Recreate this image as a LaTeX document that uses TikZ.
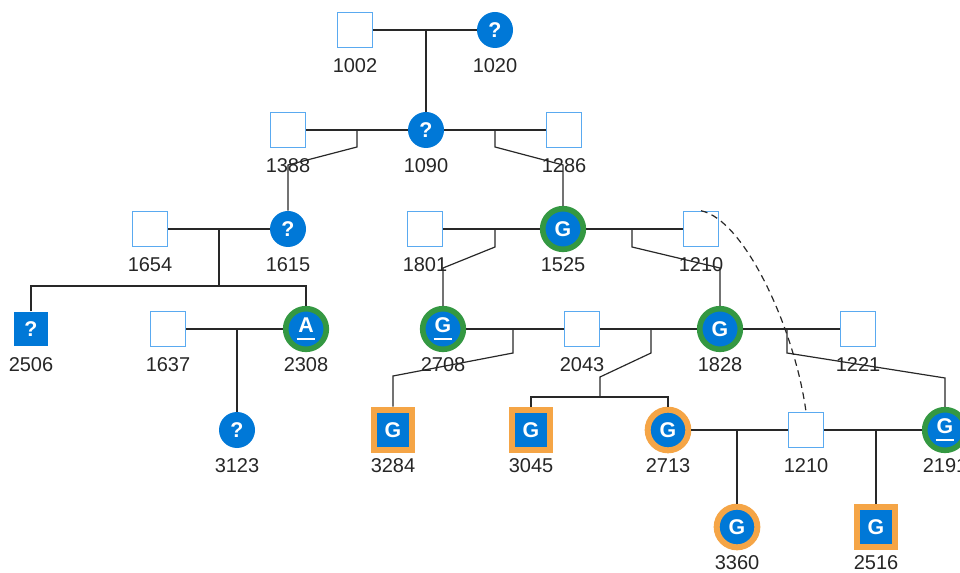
\documentclass[tikz,border=0pt]{standalone}
\usepackage{fontspec}
\setmainfont{Liberation Sans}
\definecolor{pblue}{RGB}{0,120,215}
\definecolor{pline}{RGB}{90,170,240}
\definecolor{pgreen}{RGB}{52,152,66}
\definecolor{porange}{RGB}{245,165,70}
\definecolor{pedge}{RGB}{40,40,40}
\newcommand{\ulsym}[1]{\shortstack{#1\\[0.5pt]\rule{14pt}{1.6pt}}}
\tikzset{
  lbl/.style={font=\fontsize{15}{15}\selectfont, text=black!85, inner sep=0pt, yshift=-27pt},
  sym/.style={text=white, font=\bfseries\fontsize{16}{16}\selectfont, inner sep=0pt},
  sqr/.style={draw=pline, line width=0.9pt, fill=white, minimum size=26.5pt, inner sep=0pt},
  qcirc/.style={sym, circle, fill=pblue, minimum size=27pt},
  qsqr/.style={sym, fill=pblue, minimum size=26pt},
  gring/.style={sym, circle, fill=pblue, draw=pgreen, line width=4.2pt, minimum size=30.5pt},
  oring/.style={sym, circle, fill=pblue, draw=porange, line width=4.5pt, minimum size=30.5pt},
  osqr/.style={sym, fill=pblue, draw=porange, line width=4.5pt, minimum width=28.5pt, minimum height=30.5pt},
  edge/.style={draw=pedge, line width=0.9pt},
  dashed edge/.style={edge, dash pattern=on 5pt off 3.5pt}
}
\begin{document}
\begin{tikzpicture}[x=0.75pt,y=0.75pt,yscale=-1,xscale=1]
\useasboundingbox (0,0) rectangle (960,573);

%Shape: Square 
\node [sqr, label={[lbl]center:1002}] (n1002) at (355,30) {};
%Shape: Circle 
\node [qcirc, label={[lbl]center:1020}] (n1020) at (495,30) {?};

%Shape: Square 
\node [sqr, label={[lbl]center:1388}] (n1388) at (288,130) {};
%Shape: Circle 
\node [qcirc, label={[lbl]center:1090}] (n1090) at (426,130) {?};
%Shape: Square 
\node [sqr, label={[lbl]center:1286}] (n1286) at (564,130) {};

%Shape: Square 
\node [sqr, label={[lbl]center:1654}] (n1654) at (150,229) {};
%Shape: Circle 
\node [qcirc, label={[lbl]center:1615}] (n1615) at (288,229) {?};
%Shape: Square 
\node [sqr, label={[lbl]center:1801}] (n1801) at (425,229) {};
%Shape: Circle 
\node [gring, label={[lbl]center:1525}] (n1525) at (563,229) {G};
%Shape: Square 
\node [sqr, label={[lbl]center:1210}] (n1210a) at (701,229) {};

%Shape: Square 
\node [qsqr, label={[lbl]center:2506}] (n2506) at (31,329) {?};
%Shape: Square 
\node [sqr, label={[lbl]center:1637}] (n1637) at (168,329) {};
%Shape: Circle 
\node [gring, label={[lbl]center:2308}] (n2308) at (306,329) {\ulsym{A}};
%Shape: Circle 
\node [gring, label={[lbl]center:2708}] (n2708) at (443,329) {\ulsym{G}};
%Shape: Square 
\node [sqr, label={[lbl]center:2043}] (n2043) at (582,329) {};
%Shape: Circle 
\node [gring, label={[lbl]center:1828}] (n1828) at (720,329) {G};
%Shape: Square 
\node [sqr, label={[lbl]center:1221}] (n1221) at (858,329) {};

%Shape: Circle 
\node [qcirc, label={[lbl]center:3123}] (n3123) at (237,430) {?};
%Shape: Square 
\node [osqr, label={[lbl]center:3284}] (n3284) at (393,430) {G};
%Shape: Square 
\node [osqr, label={[lbl]center:3045}] (n3045) at (531,430) {G};
%Shape: Circle 
\node [oring, label={[lbl]center:2713}] (n2713) at (668,430) {G};
%Shape: Square 
\node [sqr, label={[lbl]center:1210}] (n1210b) at (806,430) {};
%Shape: Circle 
\node [gring, label={[lbl]center:2191}] (n2191) at (945,430) {\ulsym{G}};

%Shape: Circle 
\node [oring, label={[lbl]center:3360}] (n3360) at (737,527) {G};
%Shape: Square 
\node [osqr, label={[lbl]center:2516}] (n2516) at (876,527) {G};

%Straight Lines 
\draw [edge] (n1002) -- (n1020);
\coordinate (c1) at (426,30);
\draw [edge] (c1) -- (n1090);

%Straight Lines 
\draw [edge] (n1388) -- (n1090);
\coordinate (c2) at (357,130);
\coordinate (k2) at (288,165);
\draw [edge] (c2) -- ++(0,17) -- (k2) -- (n1615);
%Straight Lines 
\draw [edge] (n1090) -- (n1286);
\coordinate (c3) at (495,130);
\coordinate (k3) at (563,165);
\draw [edge] (c3) -- ++(0,17) -- (k3) -- (n1525);

%Straight Lines 
\draw [edge] (n1654) -- (n1615);
\coordinate (c4) at (219,229);
\coordinate (s4) at (219,286);
\draw [edge] (c4) -- (s4);
\draw [edge] (n2506) |- (s4) -| (n2308);

%Straight Lines 
\draw [edge] (n1801) -- (n1525);
\coordinate (c5) at (495,229);
\coordinate (k5) at (443,268);
\draw [edge] (c5) -- ++(0,18) -- (k5) -- (n2708);
%Straight Lines 
\draw [edge] (n1525) -- (n1210a);
\coordinate (c6) at (632,229);
\coordinate (k6) at (720,268);
\draw [edge] (c6) -- ++(0,18) -- (k6) -- (n1828);

%Curve Lines 
\draw [dashed edge] (n1210a.north) .. controls (745,220) and (795,330) .. (n1210b.north);

%Straight Lines 
\draw [edge] (n1637) -- (n2308);
\coordinate (c7) at (237,329);
\draw [edge] (c7) -- (n3123);

%Straight Lines 
\draw [edge] (n2708) -- (n2043);
\coordinate (c8) at (513,329);
\coordinate (k8) at (393,376);
\draw [edge] (c8) -- ++(0,24) -- (k8) -- (n3284);
%Straight Lines 
\draw [edge] (n2043) -- (n1828);
\coordinate (c9) at (651,329);
\coordinate (k9) at (600,377);
\coordinate (s9) at (600,397);
\draw [edge] (c9) -- ++(0,24) -- (k9) -- (s9);
\draw [edge] (n3045) |- (s9) -| (n2713);
%Straight Lines 
\draw [edge] (n1828) -- (n1221);
\coordinate (c10) at (787,329);
\coordinate (k10) at (945,378);
\draw [edge] (c10) -- ++(0,24) -- (k10) -- (n2191);

%Straight Lines 
\draw [edge] (n2713) -- (n1210b);
\coordinate (c11) at (737,430);
\draw [edge] (c11) -- (n3360);
%Straight Lines 
\draw [edge] (n1210b) -- (n2191);
\coordinate (c12) at (876,430);
\draw [edge] (c12) -- (n2516);

\end{tikzpicture}
\end{document}
